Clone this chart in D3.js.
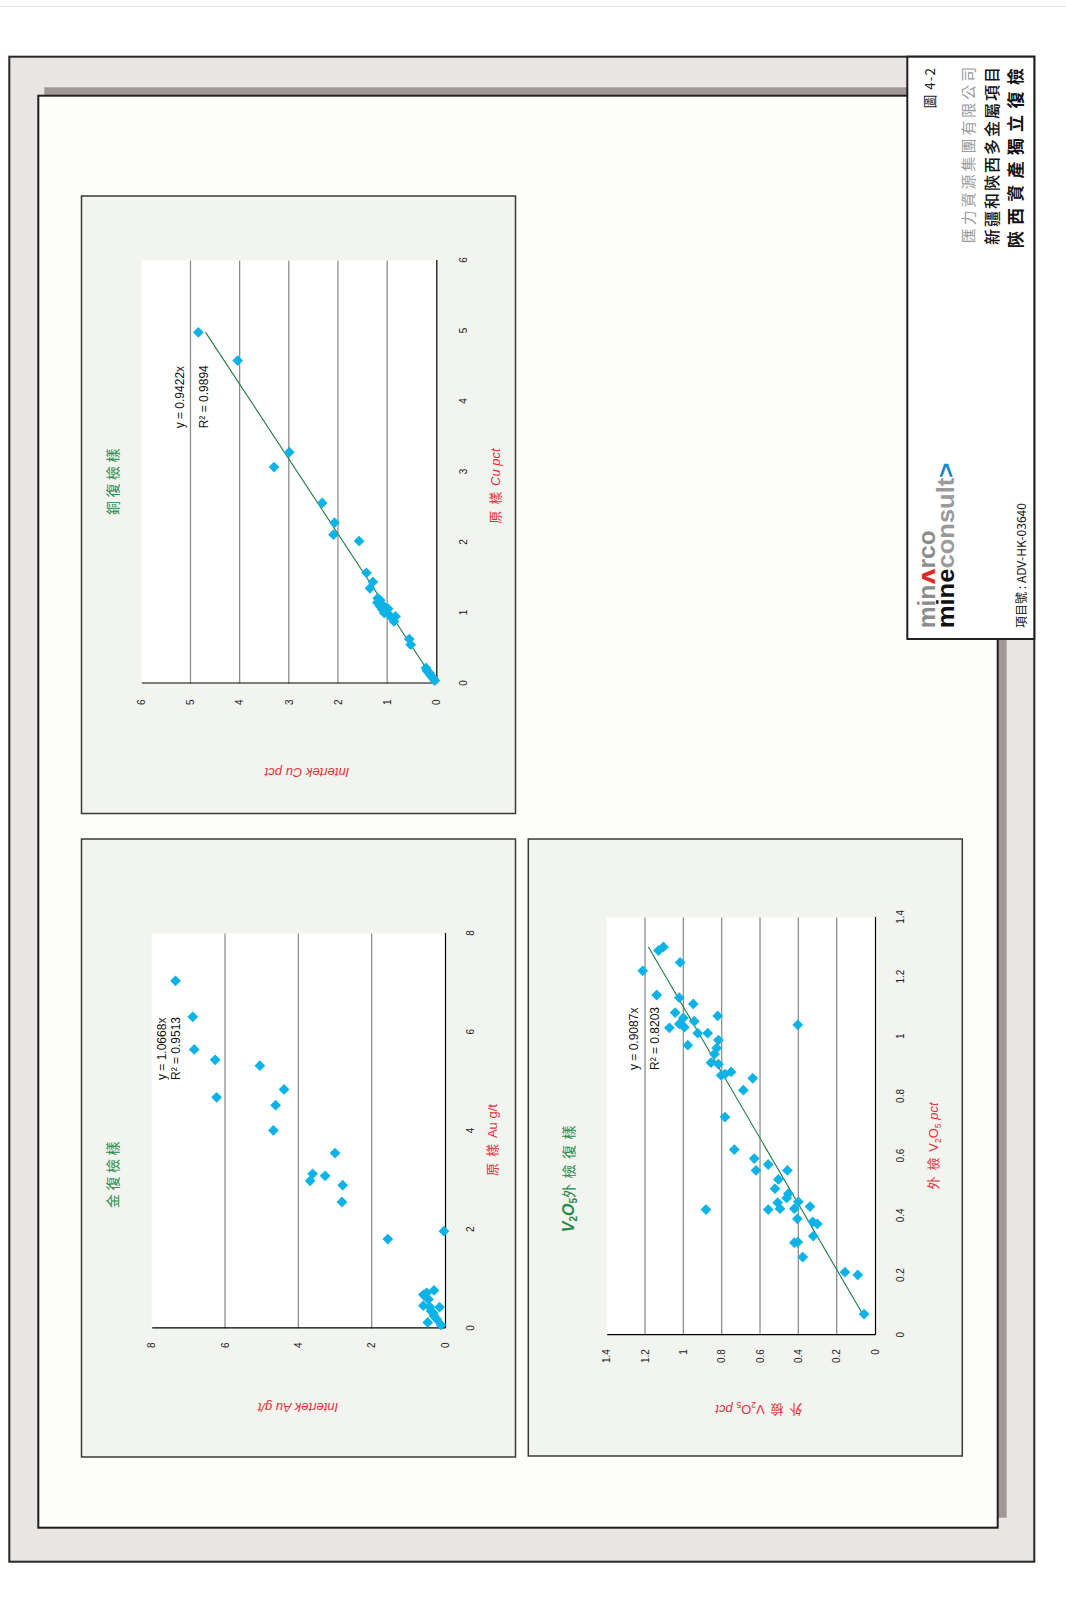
<!DOCTYPE html>
<html>
<head>
<meta charset="utf-8">
<script src="https://cdn.jsdelivr.net/npm/d3@7"></script>
<style>
  html, body { margin: 0; padding: 0; background: #ffffff; }
  svg { display: block; }
</style>
</head>
<body>
<svg id="page" width="1066" height="1616"></svg>
<script>
// ---- Copper duplicates: original assay vs Intertek (Cu pct)
const cuOriginal = [4.98,4.58,3.28,3.07,2.56,2.28,2.11,2.02,1.57,1.44,1.35,1.21,1.18,1.15,1.12,1.10,1.08,1.05,1.03,1.00,0.98,1.06,0.95,0.93,0.88,0.63,0.55,0.22,0.18,0.15,0.12,0.09,0.06,0.04];
const cuIntertek = [4.84,4.04,2.99,3.30,2.32,2.07,2.09,1.57,1.42,1.29,1.35,1.19,1.14,1.20,1.10,1.15,1.05,1.10,1.02,1.06,0.97,0.98,0.83,0.90,0.86,0.55,0.52,0.21,0.19,0.14,0.12,0.08,0.05,0.03];
const cuTicks = [0,1,2,3,4,5,6];
const cuTickLabels = ["0","1","2","3","4","5","6"];
const cuSlope = 0.9422;
const cuR2 = "0.9894";

// ---- Gold duplicates: original assay vs Intertek (Au g/t)
const auOriginal = [7.04,6.31,5.65,5.44,4.68,5.32,4.84,4.52,4.01,3.55,3.13,2.99,3.09,2.90,2.56,1.81,1.97,0.77,0.68,0.59,0.46,0.43,0.43,0.12,0.19,0.07,0.31,0.72,0.25,0.35];
const auIntertek = [7.35,6.88,6.84,6.27,6.23,5.05,4.39,4.62,4.68,3.00,3.61,3.68,3.27,2.79,2.81,1.56,0.03,0.30,0.59,0.45,0.59,0.41,0.15,0.47,0.23,0.11,0.32,0.50,0.30,0.38];
const auTicks = [0,2,4,6,8];
const auTickLabels = ["0","2","4","6","8"];
const auSlope = 1.0668;
const auR2 = "0.9513";

// ---- V2O5 external check duplicates (pct)
const vOriginal = [1.301,1.289,1.221,1.249,1.140,1.131,1.110,1.081,1.070,1.063,1.052,1.043,1.032,1.030,1.040,1.012,1.012,0.989,0.972,0.962,0.942,0.913,0.908,0.871,0.875,0.882,0.861,0.821,0.731,0.622,0.592,0.552,0.572,0.552,0.522,0.491,0.474,0.460,0.444,0.447,0.424,0.421,0.424,0.431,0.421,0.390,0.380,0.373,0.332,0.310,0.312,0.262,0.211,0.202,0.071];
const vCheck = [1.104,1.130,1.212,1.017,1.139,1.021,0.948,1.043,0.821,1.000,0.943,1.021,0.995,1.073,0.403,0.925,0.873,0.817,0.977,0.826,0.838,0.856,0.817,0.803,0.783,0.751,0.638,0.687,0.783,0.734,0.630,0.621,0.557,0.457,0.504,0.522,0.452,0.461,0.508,0.400,0.496,0.557,0.421,0.339,0.882,0.405,0.325,0.301,0.322,0.421,0.403,0.377,0.157,0.090,0.057];
const vTicks = [0,0.2,0.4,0.6,0.8,1.0,1.2,1.4];
const vTickLabels = ["0","0.2","0.4","0.6","0.8","1","1.2","1.4"];
const vSlope = 0.9087;
const vR2 = "0.8203";

// ---- Title block text
const figureNo = "圖 4-2";
const companyName = "匯力資源集團有限公司";
const projectName = "新疆和陝西多金屬項目";
const sheetTitle = "陝西資產獨立復檢";
const projectNo = "項目號 : ADV-HK-03640";

const W = 1066, H = 1616;
const SANS = "'Liberation Sans', Arial, 'Noto Sans CJK TC', sans-serif";
const CJK = "'Noto Sans CJK TC', 'Noto Sans CJK SC', sans-serif";
const GREEN = "#2a8a4c";
const RED = "#e3303a";
const MARK = "#0db3e6";

const svg = d3.select("#page");

// hairline across the top of the sheet
svg.append("line")
  .attr("x1", 0).attr("x2", W).attr("y1", 6.5).attr("y2", 6.5)
  .attr("stroke", "#e3e3e3").attr("stroke-width", 1);

// The sheet is laid out in landscape and turned a quarter turn anticlockwise.
const sheet = svg.append("g").attr("transform", `translate(0,${H}) rotate(-90)`);

// outer frame
sheet.append("rect")
  .attr("x", 54.3).attr("y", 9.3).attr("width", 1505).attr("height", 1025)
  .attr("fill", "#e9e5e5").attr("stroke", "#2a2526").attr("stroke-width", 2);
// drop shadow of the drawing sheet
sheet.append("rect")
  .attr("x", 98.3).attr("y", 44.3).attr("width", 1430.4).attr("height", 962.4)
  .attr("fill", "#9e9898");
// drawing sheet
sheet.append("rect")
  .attr("x", 88.3).attr("y", 38.3).attr("width", 1432).attr("height", 959.4)
  .attr("fill", "#fdfdfb").attr("stroke", "#231f20").attr("stroke-width", 2);

function drawChart(c) {
  const g = sheet.append("g");
  g.append("rect")
    .attr("x", c.panel[0]).attr("y", c.panel[1]).attr("width", c.panel[2]).attr("height", c.panel[3])
    .attr("fill", "#f2f4ef").attr("stroke", "#3a3a3a").attr("stroke-width", 1.5);

  const x = d3.scaleLinear().domain([0, c.max]).range([c.plot.x0, c.plot.x1]);
  const y = d3.scaleLinear().domain([0, c.max]).range([c.plot.y0, c.plot.y1]);

  // plot area
  g.append("rect")
    .attr("x", x(0)).attr("y", y(c.max))
    .attr("width", x(c.max) - x(0)).attr("height", y(0) - y(c.max))
    .attr("fill", "#ffffff");

  // major gridlines
  g.append("g").selectAll("line").data(c.ticks.slice(1, -1)).join("line")
    .attr("x1", x(0)).attr("x2", x(c.max))
    .attr("y1", d => y(d)).attr("y2", d => y(d))
    .attr("stroke", "#8e8e8e").attr("stroke-width", 1.3);

  // axes
  const xAxis = d3.axisBottom(x).tickValues(c.ticks).tickFormat((d, i) => c.labels[i])
    .tickSize(0).tickSizeOuter(0).tickPadding(c.xPad);
  const yAxis = d3.axisLeft(y).tickValues(c.ticks).tickFormat((d, i) => c.labels[i])
    .tickSize(0).tickSizeOuter(0).tickPadding(c.yPad);
  const gx = g.append("g").attr("transform", `translate(0,${y(0)})`).call(xAxis);
  const gy = g.append("g").attr("transform", `translate(${x(0)},0)`).call(yAxis);
  [gx, gy].forEach(a => {
    a.attr("font-family", SANS).attr("font-size", 10);
    a.select(".domain").attr("stroke", "#000").attr("stroke-width", 1.2);
    a.selectAll("text").attr("fill", "#222");
  });

  // trendline through the origin
  if (c.trend) {
    const x0 = d3.min(c.xs), x1 = d3.max(c.xs);
    g.append("line")
      .attr("x1", x(x0)).attr("y1", y(c.slope * x0))
      .attr("x2", x(x1)).attr("y2", y(c.slope * x1))
      .attr("stroke", "#1f7a45").attr("stroke-width", 1.1);
  }

  // sample markers
  const diamond = d3.symbol(d3.symbolSquare, 58)();
  g.append("g").selectAll("path").data(c.xs.map((v, i) => [v, c.ys[i]])).join("path")
    .attr("d", diamond)
    .attr("transform", d => `translate(${x(d[0])},${y(d[1])}) rotate(45)`)
    .attr("fill", MARK);

  // regression equation
  g.append("text").attr("x", c.eq[0]).attr("y", c.eq[1])
    .attr("font-family", SANS).attr("font-size", 12).attr("fill", "#111")
    .text(`y = ${c.slope.toFixed(4)}x`);
  g.append("text").attr("x", c.eq[0]).attr("y", c.eq[2])
    .attr("font-family", SANS).attr("font-size", 12).attr("fill", "#111")
    .text(`R² = ${c.r2}`);

  // chart title
  const t = g.append("text").attr("x", c.title[0]).attr("y", c.title[1])
    .attr("text-anchor", "middle").attr("fill", GREEN);
  c.titleParts.forEach(p => {
    const s = t.append("tspan").text(p.t)
      .attr("font-family", p.cjk ? CJK : SANS)
      .attr("font-size", p.size || 14);
    if (p.bold) s.attr("font-weight", "bold");
    if (p.italic) s.attr("font-style", "italic");
    if (p.dy) s.attr("dy", p.dy);
    if (p.ls) s.style("letter-spacing", p.ls + "px");
  });

  // horizontal axis title
  const xt = g.append("text").attr("x", c.xTitle[0]).attr("y", c.xTitle[1])
    .attr("text-anchor", "middle").attr("fill", RED);
  c.xTitleParts.forEach(p => {
    const s = xt.append("tspan").text(p.t)
      .attr("font-family", p.cjk ? CJK : SANS)
      .attr("font-size", p.size || 13);
    if (p.italic) s.attr("font-style", "italic");
    if (p.dy) s.attr("dy", p.dy);
    if (p.ls) s.style("letter-spacing", p.ls + "px");
  });

  // vertical axis title
  const yt = g.append("text")
    .attr("transform", `translate(${c.yTitle[0]},${c.yTitle[1]}) rotate(-90)`)
    .attr("text-anchor", "middle").attr("fill", RED);
  c.yTitleParts.forEach(p => {
    const s = yt.append("tspan").text(p.t)
      .attr("font-family", p.cjk ? CJK : SANS)
      .attr("font-size", p.size || 13);
    if (p.italic) s.attr("font-style", "italic");
    if (p.dy) s.attr("dy", p.dy);
    if (p.ls) s.style("letter-spacing", p.ls + "px");
  });
}

// Cu
drawChart({
  panel: [802.5, 81.5, 617.5, 434],
  plot: { x0: 932.5, x1: 1355.6, y0: 436.3, y1: 141.3 },
  max: 6, ticks: cuTicks, labels: cuTickLabels, xs: cuOriginal, ys: cuIntertek,
  xPad: 24, yPad: 16, trend: true, slope: cuSlope, r2: cuR2,
  eq: [1187.7, 183.5, 207.5],
  title: [1136, 118],
  titleParts: [{ t: "銅復檢樣", cjk: true, size: 14, ls: 3.5 }],
  xTitle: [1130, 500],
  xTitleParts: [{ t: "原 樣 ", cjk: true, size: 13, ls: 1.5 }, { t: "Cu pct", italic: true, size: 13 }],
  yTitle: [848.5, 307],
  yTitleParts: [{ t: "Intertek Cu pct", italic: true, size: 13 }]
});

// Au
drawChart({
  panel: [159, 81.5, 618, 434],
  plot: { x0: 287.6, x1: 682.6, y0: 445, y1: 151.7 },
  max: 8, ticks: auTicks, labels: auTickLabels, xs: auOriginal, ys: auIntertek,
  xPad: 21.5, yPad: 14, trend: false, slope: auSlope, r2: auR2,
  eq: [536, 166, 179.5],
  title: [443, 118],
  titleParts: [{ t: "金復檢樣", cjk: true, size: 14, ls: 3.5 }],
  xTitle: [476, 496.5],
  xTitleParts: [{ t: "原 樣 ", cjk: true, size: 13, ls: 1.5 }, { t: "Au g/t", size: 13 }],
  yTitle: [213, 298],
  yTitleParts: [{ t: "Intertek Au g/t", italic: true, size: 13 }]
});

// V2O5
drawChart({
  panel: [160, 528.3, 617, 434],
  plot: { x0: 280.8, x1: 698.6, y0: 875, y1: 606.7 },
  max: 1.4, ticks: vTicks, labels: vTickLabels, xs: vOriginal, ys: vCheck,
  xPad: 21.5, yPad: 14, trend: true, slope: vSlope, r2: vR2,
  eq: [546, 637.5, 659],
  title: [440, 574],
  titleParts: [
    { t: "V", bold: true, italic: true, size: 16 },
    { t: "2", bold: true, size: 10, dy: 3 },
    { t: "O", bold: true, italic: true, size: 16, dy: -3 },
    { t: "5", bold: true, size: 10, dy: 3 },
    { t: "外檢復樣", cjk: true, size: 14, dy: -3, ls: 5.5 }
  ],
  xTitle: [470, 937.5],
  xTitleParts: [
    { t: "外 檢 ", cjk: true, size: 13, ls: 1.5 }, { t: "V", size: 13 },
    { t: "2", size: 8.5, dy: 3 }, { t: "O", size: 13, dy: -3 },
    { t: "5", size: 8.5, dy: 3 }, { t: " pct", italic: true, size: 13, dy: -3 }
  ],
  yTitle: [211, 759],
  yTitleParts: [
    { t: "外 檢 ", cjk: true, size: 13, ls: 1.5 }, { t: "V", size: 13 },
    { t: "2", size: 8.5, dy: 3 }, { t: "O", size: 13, dy: -3 },
    { t: "5", size: 8.5, dy: 3 }, { t: " pct", italic: true, size: 13, dy: -3 }
  ]
});

// ---- title block
const tb = sheet.append("g");
tb.append("rect")
  .attr("x", 977).attr("y", 907.3).attr("width", 582.3).attr("height", 127)
  .attr("fill", "#ffffff").attr("stroke", "#231f20").attr("stroke-width", 2);

tb.append("text").attr("x", 1549).attr("y", 935)
  .attr("text-anchor", "end")
  .attr("font-family", CJK).attr("font-size", 13.5).attr("fill", "#222")
  .style("letter-spacing", "1px")
  .text(figureNo);
tb.append("text").attr("x", 1372.7).attr("y", 974)
  .attr("font-family", CJK).attr("font-size", 15).attr("fill", "#9b9b9b")
  .attr("textLength", 176.6).attr("lengthAdjust", "spacing")
  .text(companyName);
tb.append("text").attr("x", 1371).attr("y", 997.5)
  .attr("font-family", CJK).attr("font-size", 16).attr("font-weight", 500).attr("fill", "#111")
  .attr("textLength", 178).attr("lengthAdjust", "spacing")
  .text(projectName);
tb.append("text").attr("x", 1367.7).attr("y", 1021.5)
  .attr("font-family", CJK).attr("font-size", 17).attr("font-weight", "bold").attr("fill", "#111")
  .attr("textLength", 180).attr("lengthAdjust", "spacing")
  .text(sheetTitle);

// logo
const logo1 = tb.append("text").attr("x", 987.7).attr("y", 935)
  .attr("font-family", SANS).attr("font-size", 23.5).attr("font-weight", "bold")
  .attr("textLength", 98).attr("lengthAdjust", "spacingAndGlyphs");
logo1.append("tspan").text("min").attr("fill", "#8c8c8c");
logo1.append("tspan").text("ʌ").attr("fill", "#e02a2a").attr("font-family", "'DejaVu Sans', sans-serif");
logo1.append("tspan").text("rco").attr("fill", "#8c8c8c");

const logo2 = tb.append("text").attr("x", 987.7).attr("y", 953.5)
  .attr("font-family", SANS).attr("font-size", 23.5).attr("font-weight", "bold")
  .attr("textLength", 165.6).attr("lengthAdjust", "spacingAndGlyphs");
logo2.append("tspan").text("mine").attr("fill", "#111");
logo2.append("tspan").text("consult").attr("fill", "#9a9a9a");
logo2.append("tspan").text(">").attr("fill", "#1a85c6");

tb.append("text").attr("x", 988).attr("y", 1026)
  .attr("font-family", CJK).attr("font-size", 12).attr("fill", "#111")
  .attr("textLength", 125).attr("lengthAdjust", "spacingAndGlyphs")
  .text(projectNo);
</script>
</body>
</html>
